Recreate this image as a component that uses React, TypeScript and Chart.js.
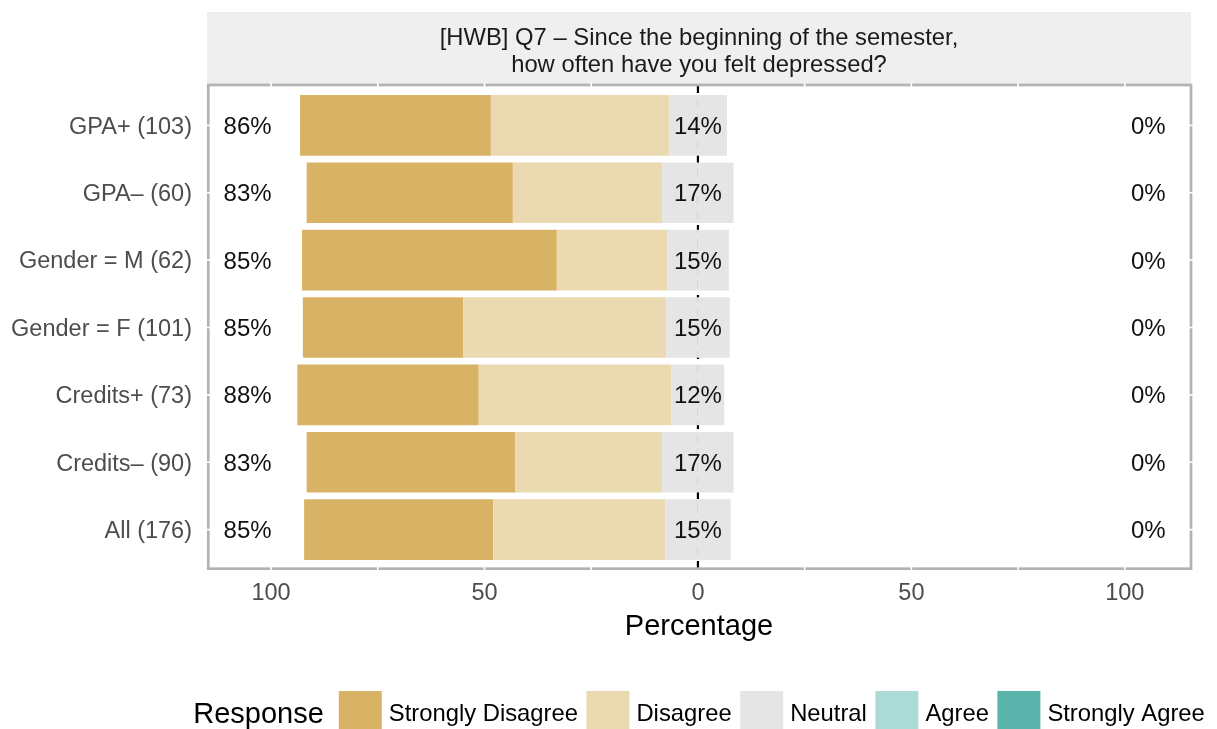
import React, { useEffect, useRef } from "react";
import { Chart, registerables } from "chart.js";

Chart.register(...registerables);

const FONT = "'Liberation Sans', Arial, Helvetica, sans-serif";

const categories = [
  "GPA+ (103)",
  "GPA– (60)",
  "Gender = M (62)",
  "Gender = F (101)",
  "Credits+ (73)",
  "Credits– (90)",
  "All (176)",
];
const responses = ["Strongly Disagree", "Disagree", "Neutral", "Agree", "Strongly Agree"];
const responseColors = ["#d8b365", "#ebd9b2", "#e5e5e5", "#acdad5", "#5ab4ac"];

const stronglyDisagree = [44.7, 48.3, 59.7, 37.6, 42.5, 48.9, 44.3];
const disagree = [41.7, 35.0, 25.8, 47.5, 45.2, 34.4, 40.3];
const neutral = [13.6, 16.7, 14.5, 14.9, 12.3, 16.7, 15.3];
const agree = [0, 0, 0, 0, 0, 0, 0];
const stronglyAgree = [0, 0, 0, 0, 0, 0, 0];

const leftLabels = [86, 83, 85, 85, 88, 83, 85];
const neutralLabels = [14, 17, 15, 15, 12, 17, 15];
const rightLabels = [0, 0, 0, 0, 0, 0, 0];

const xTicks = [-100, -50, 0, 50, 100];
const xMinorTicks = [-75, -25, 25, 75];
const titleLines = [
  "[HWB] Q7 – Since the beginning of the semester,",
  "how often have you felt depressed?",
];
const xTitle = "Percentage";
const legendTitle = "Response";

const LABEL_POS = 105.5;
const TEXT_SHIFT = 1.8;

function pts(arr: number[], sign: number) {
  return arr.map((v, i) => ({ x: sign * v, y: i }));
}

const likertPlugin = {
  id: "likertDecor",
  beforeDraw(chart: any) {
    const { ctx, chartArea } = chart;
    const { left, right, top } = chartArea;
    ctx.save();
    ctx.fillStyle = "#efefef";
    ctx.fillRect(left, 12, right - left, top - 12);
    ctx.fillStyle = "#1a1a1a";
    ctx.font = `23.8px ${FONT}`;
    ctx.textAlign = "center";
    ctx.textBaseline = "alphabetic";
    const cx = (left + right) / 2;
    ctx.fillText(titleLines[0], cx, 44.5);
    ctx.fillText(titleLines[1], cx, 71.5);
    ctx.restore();
  },
  beforeDatasetsDraw(chart: any) {
    const { ctx, chartArea, scales } = chart;
    const x0 = scales.x.getPixelForValue(0);
    ctx.save();
    ctx.strokeStyle = "#000";
    ctx.lineWidth = 2.2;
    ctx.setLineDash([8, 6]);
    ctx.beginPath();
    ctx.moveTo(x0, chartArea.top);
    ctx.lineTo(x0, chartArea.bottom);
    ctx.stroke();
    ctx.restore();
  },
  afterDatasetsDraw(chart: any) {
    const { ctx, chartArea, scales } = chart;
    const { left, right, top, bottom } = chartArea;
    ctx.save();
    ctx.fillStyle = "#111";
    ctx.font = `24px ${FONT}`;
    ctx.textAlign = "center";
    ctx.textBaseline = "middle";
    categories.forEach((_, i) => {
      const y = scales.y.getPixelForValue(i) + TEXT_SHIFT;
      ctx.fillText(leftLabels[i] + "%", scales.x.getPixelForValue(-LABEL_POS), y);
      ctx.fillText(neutralLabels[i] + "%", scales.x.getPixelForValue(0), y);
      ctx.fillText(rightLabels[i] + "%", scales.x.getPixelForValue(LABEL_POS), y);
    });
    ctx.strokeStyle = "#b3b3b3";
    ctx.lineWidth = 2.7;
    ctx.strokeRect(left + 1.3, top, right - left - 1.3, bottom - top - 1.3);
    ctx.strokeStyle = "#ffffff";
    ctx.lineWidth = 1.6;
    [...xTicks, ...xMinorTicks].forEach((v) => {
      const x = scales.x.getPixelForValue(v);
      if (v === 0) return;
      ctx.beginPath();
      ctx.moveTo(x, top - 2);
      ctx.lineTo(x, top + 2);
      ctx.moveTo(x, bottom - 3);
      ctx.lineTo(x, bottom + 1);
      ctx.stroke();
    });
    categories.forEach((_, i) => {
      const y = scales.y.getPixelForValue(i);
      ctx.beginPath();
      ctx.moveTo(left - 1, y);
      ctx.lineTo(left + 4, y);
      ctx.moveTo(right - 3, y);
      ctx.lineTo(right + 2, y);
      ctx.stroke();
    });
    ctx.restore();
  },
  afterDraw(chart: any) {
    const { ctx, chartArea } = chart;
    const cx = (chartArea.left + chartArea.right) / 2;
    ctx.save();
    const box = 43;
    const titleFont = `29px ${FONT}`;
    const labelFont = `23.8px ${FONT}`;
    ctx.font = titleFont;
    const titleW = ctx.measureText(legendTitle).width;
    ctx.font = labelFont;
    const widths = responses.map((r) => ctx.measureText(r).width);
    let total = titleW + 15;
    widths.forEach((w, i) => {
      total += box + 7 + w + (i < widths.length - 1 ? 8.5 : 0);
    });
    let x = cx - total / 2;
    const boxTop = 691;
    ctx.textAlign = "left";
    ctx.textBaseline = "alphabetic";
    ctx.fillStyle = "#000";
    ctx.font = titleFont;
    ctx.fillText(legendTitle, x, 723);
    x += titleW + 15;
    ctx.font = labelFont;
    responses.forEach((r, i) => {
      ctx.fillStyle = responseColors[i];
      ctx.fillRect(x, boxTop, box, box);
      x += box + 7;
      ctx.fillStyle = "#000";
      ctx.fillText(r, x, 721);
      x += widths[i] + 8.5;
    });
    ctx.restore();
  },
};

export default function App() {
  const canvasRef = useRef<HTMLCanvasElement | null>(null);

  useEffect(() => {
    if (!canvasRef.current) return;
    Chart.defaults.font.family = FONT;
    const half = neutral.map((v) => v / 2);
    const mk = (label: string, data: any[], color: string) => ({
      label,
      data,
      backgroundColor: color,
      borderWidth: 0,
      stack: "s",
      barPercentage: 0.9,
      categoryPercentage: 1,
    });
    const chart = new Chart(canvasRef.current, {
      type: "bar",
      data: {
        datasets: [
          mk(responses[2], pts(half, -1), responseColors[2]),
          mk(responses[1], pts(disagree, -1), responseColors[1]),
          mk(responses[0], pts(stronglyDisagree, -1), responseColors[0]),
          mk(responses[2] + " ", pts(half, 1), responseColors[2]),
          mk(responses[3], pts(agree, 1), responseColors[3]),
          mk(responses[4], pts(stronglyAgree, 1), responseColors[4]),
        ],
      },
      options: {
        indexAxis: "y",
        responsive: false,
        animation: false,
        devicePixelRatio: 1,
        layout: { padding: { top: 85, right: 26, left: 0, bottom: 84.6 } },
        plugins: { legend: { display: false }, tooltip: { enabled: false } },
        scales: {
          x: {
            type: "linear",
            min: -115,
            max: 115.5,
            bounds: "data",
            offset: false,
            stacked: true,
            grid: { display: false, drawTicks: false },
            border: { display: false },
            afterBuildTicks: (s: any) => {
              s.ticks = xTicks.map((v) => ({ value: v }));
            },
            ticks: {
              callback: (v: any) => String(Math.abs(Number(v))),
              font: { size: 23.5, family: FONT },
              color: "#4d4d4d",
              padding: 9,
              maxRotation: 0,
              autoSkip: false,
            },
            title: {
              display: true,
              text: xTitle,
              font: { size: 29, family: FONT },
              color: "#000",
              padding: 0,
            },
            afterFit: (s: any) => {
              s.height = 74.4;
            },
          },
          y: {
            type: "linear",
            min: -0.6,
            max: 6.6,
            bounds: "data",
            offset: false,
            reverse: true,
            stacked: true,
            grid: { display: false, drawTicks: false, offset: false },
            border: { display: false },
            afterBuildTicks: (s: any) => {
              s.ticks = categories.map((_, i) => ({ value: i }));
            },
            ticks: {
              callback: (v: any) => categories[Number(v)] ?? "",
              font: { size: 23.5, family: FONT },
              color: "#4d4d4d",
              padding: 15,
              labelOffset: TEXT_SHIFT,
              autoSkip: false,
            },
            afterFit: (s: any) => {
              s.width = 207;
            },
          },
        },
      } as any,
      plugins: [likertPlugin],
    });
    return () => chart.destroy();
  }, []);

  return (
    <div style={{ position: "absolute", left: 0, top: 0, width: 1217, height: 729, background: "#fff" }}>
      <canvas ref={canvasRef} width={1217} height={729} style={{ display: "block", width: 1217, height: 729 }} />
    </div>
  );
}
